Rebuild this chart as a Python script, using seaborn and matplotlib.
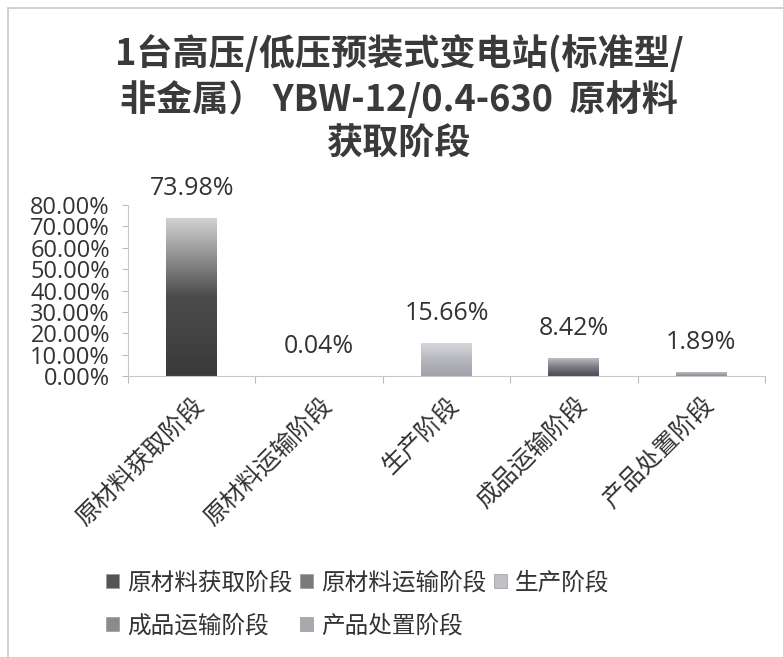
import numpy as np
import pandas as pd
import matplotlib
matplotlib.use("Agg")
import matplotlib.pyplot as plt
import seaborn as sns
from matplotlib.patches import Patch, Rectangle
from matplotlib.colors import LinearSegmentedColormap

# data
stages = ["原材料获取阶段", "原材料运输阶段", "生产阶段", "成品运输阶段", "产品处置阶段"]
shares = [73.98, 0.04, 15.66, 8.42, 1.89]
y_ticks = [0, 10, 20, 30, 40, 50, 60, 70, 80]
title = "1台高压/低压预装式变电站(标准型/\n非金属） YBW-12/0.4-630  原材料\n获取阶段"

# gradient colours per bar (bottom, middle, top) and legend swatches
grad_bot = ["#3a3a3a", "#5a5a5a", "#a0a0a8", "#4a4a52", "#8a8a92"]
grad_mid = ["#4c4c4c", "#8a8a8a", "#b8b8c0", "#7a7a82", "#a8a8b0"]
grad_top = ["#d4d4d4", "#cfcfcf", "#d8d8de", "#bcbcc4", "#cacad0"]
swatch = ["#555555", "#7a7a7a", "#c0c0c6", "#8a8a90", "#a8a8ae"]

sns.set_style("white")
plt.rcParams["font.family"] = ["Open Sans", "Noto Sans CJK SC", "DejaVu Sans"]
cjk = ["Noto Sans CJK SC", "DejaVu Sans"]

df = pd.DataFrame({"stage": stages, "share": np.array(shares) / 100})

fig = plt.figure(figsize=(7.83, 6.57), dpi=100)
ax = fig.add_axes([128 / 783, 1 - 376 / 657, 637 / 783, 171 / 657])

sns.barplot(data=df, x="stage", y="share", hue="stage", palette=swatch,
            width=0.4, legend=False, ax=ax, edgecolor="none")

# gradient fill clipped to each bar
for i, p in enumerate(ax.patches):
    x0, y0 = p.get_x(), p.get_y()
    w, h = p.get_width(), p.get_height()
    cmap = LinearSegmentedColormap.from_list(
        "g", [(0, grad_bot[i]), (0.5, grad_mid[i]), (1, grad_top[i])])
    grad = np.linspace(0, 1, 256).reshape(-1, 1)
    im = ax.imshow(grad, cmap=cmap, aspect="auto", origin="lower",
                   extent=[x0, x0 + w, y0, y0 + h], zorder=2)
    im.set_clip_path(p)
    p.set_facecolor("none")

ax.set_xlim(-0.5, len(stages) - 0.5)
ax.set_ylim(0, 0.8)

# value labels
for p, v in zip(ax.patches, shares):
    ax.annotate(f"{v:.2f}%", (p.get_x() + p.get_width() / 2, p.get_height()),
                xytext=(0, 12), textcoords="offset points", ha="center", va="bottom",
                fontsize=18, color="#333333")

# the original's tick labels sit nearly touching each other
ax.set_yticks(np.array(y_ticks) / 100)
ax.set_yticklabels([f"{t:.2f}%" for t in y_ticks], fontsize=17, color="#333333")
ax.tick_params(axis="y", length=4, width=0.8, color="#bbbbbb", pad=9, direction="out", left=True)

ax.set_xticks(range(len(stages)))
ax.set_xticklabels(stages, rotation=45, ha="right", rotation_mode="anchor",
                   fontsize=17.5, color="#333333", family=cjk)
ax.tick_params(axis="x", length=0, pad=12)
ax.set_xticks(np.arange(-0.5, len(stages)), minor=True)
ax.tick_params(axis="x", which="minor", length=5, width=0.8, color="#bbbbbb", bottom=True)

ax.set_xlabel("")
ax.set_ylabel("")
for side in ["top", "right"]:
    ax.spines[side].set_visible(False)
for side in ["left", "bottom"]:
    ax.spines[side].set_color("#c8c8c8")
    ax.spines[side].set_linewidth(0.8)

# title
fig.text(0.51, 1 - 99 / 657, title, ha="center", va="center", fontsize=26,
         fontweight="bold", color="#3a3a3a", linespacing=1.25, family=cjk)

# legend, row-major like the original
handles = [Patch(facecolor=c, edgecolor="#999999", linewidth=0.5) for c in swatch]
order = [0, 3, 1, 4, 2]
fig.legend([handles[i] for i in order], [stages[i] for i in order],
           loc="upper left", bbox_to_anchor=(85 / 783, 1 - 550 / 657), ncol=3,
           frameon=False, handlelength=0.55, handleheight=0.55,
           handletextpad=0.35, columnspacing=0.3, labelspacing=0.85,
           prop={"family": cjk, "size": 17}, labelcolor="#333333")

# outer chart frame
fig.patches.append(Rectangle((8 / 783, -0.01), 1.0, 1 - 8 / 657 + 0.01,
                             transform=fig.transFigure, fill=False,
                             edgecolor="#c8c8c8", linewidth=1.2))

fig.savefig("out.png", dpi=100)
